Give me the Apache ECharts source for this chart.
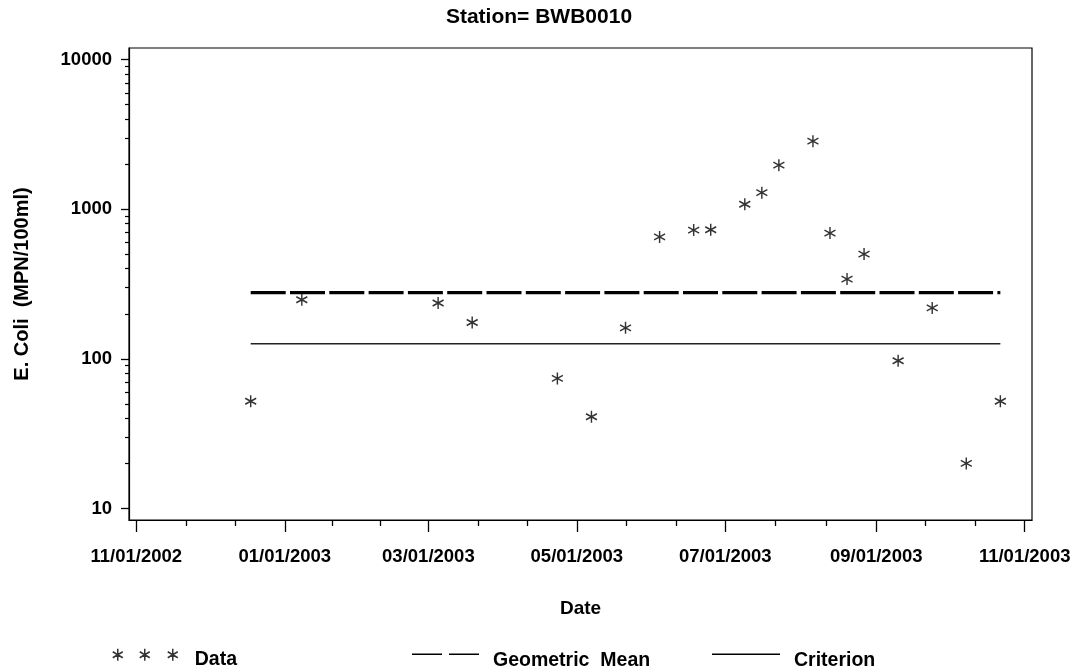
<!DOCTYPE html>
<html>
<head>
<meta charset="utf-8">
<title>E. Coli - Station BWB0010</title>
<script src="https://cdn.jsdelivr.net/npm/echarts@6/dist/echarts.min.js"></script>
<style>
  html, body { margin: 0; padding: 0; background: #fff; }
  #main { width: 1078px; height: 672px; }
</style>
</head>
<body>
<div id="main"></div>
<script>
// sample dates and E. coli counts (MPN/100ml)
var sampleDates = ['2002-12-18', '2003-01-08', '2003-03-05', '2003-03-19', '2003-04-23', '2003-05-07',
  '2003-05-21', '2003-06-04', '2003-06-18', '2003-06-25', '2003-07-09', '2003-07-16', '2003-07-23',
  '2003-08-06', '2003-08-13', '2003-08-20', '2003-08-27', '2003-09-10', '2003-09-24', '2003-10-08', '2003-10-22'];
var ecoli = [52, 248, 236, 175, 74, 41, 161, 653, 725, 728, 1080, 1290, 1970, 2850, 692, 341, 501, 97, 219, 20, 52];
var geoMean = 277;
var criterion = 126;

// axis ticks
var dateTicks = ['2002-11-01', '2003-01-01', '2003-03-01', '2003-05-01', '2003-07-01', '2003-09-01', '2003-11-01'];
var yTicks = [10, 100, 1000, 10000];
var yMinorTicks = [20, 30, 40, 50, 60, 70, 80, 90, 200, 300, 400, 500, 600, 700, 800, 900,
  2000, 3000, 4000, 5000, 6000, 7000, 8000, 9000];

var parse = function (s) { return echarts.time.parse(s).getTime(); };
var tickTimes = dateTicks.map(parse);
// two minor ticks between each pair of major dates (SAS style)
var xMinorTicks = [];
for (var i = 0; i < tickTimes.length - 1; i++) {
  var a = tickTimes[i], b = tickTimes[i + 1];
  xMinorTicks.push(a + (b - a) / 3, a + 2 * (b - a) / 3);
}

var xMin = parse('2002-10-29'), xMax = parse('2003-11-04');
var yMin = 8.37, yMax = 11950;

var FONT = '"Liberation Sans", Arial, sans-serif';
var star = 'path://M6,0L6,12M0.8,3L11.2,9M0.8,9L11.2,3';
// legend icons; the zero-length tail only stretches the box so the mark sits above the text centre
var star3 = 'path://M5,0L5,12M0,3L10,9M0,9L10,3M32,0L32,12M27,3L37,9M27,9L37,3M60,0L60,12M55,3L65,9M55,9L65,3M5,22L5,22';
var dashIcon = 'path://M0,0H30V1.5H0ZM37,0H67V1.5H37ZM0,15L0,15';
var lineIcon = 'path://M0,0H68V1.5H0ZM0,15L0,15';

var t0 = parse(sampleDates[0]), t1 = parse(sampleDates[sampleDates.length - 1]);
var legendText = {fontFamily: FONT, fontSize: 19.5, fontWeight: 'bold', color: '#000', padding: [0, 0, 0, 9]};

var chart = echarts.init(document.getElementById('main'));
chart.setOption({
  animation: false,
  backgroundColor: '#fff',
  title: {
    text: 'Station= BWB0010',
    left: 'center',
    top: 2,
    textStyle: {fontFamily: FONT, fontSize: 21, fontWeight: 'bold', color: '#000'}
  },
  grid: {left: 129, right: 46, top: 48, bottom: 152, show: true, borderColor: '#000', borderWidth: 1.2},
  xAxis: [{
    type: 'value',
    min: xMin,
    max: xMax,
    name: 'Date',
    nameLocation: 'middle',
    nameGap: 79,
    nameTextStyle: {fontFamily: FONT, fontSize: 19, fontWeight: 'bold', color: '#000'},
    axisLine: {lineStyle: {color: '#000', width: 1.2}},
    axisTick: {customValues: tickTimes, length: 12, lineStyle: {color: '#000', width: 1.3}},
    axisLabel: {
      customValues: tickTimes,
      margin: 27,
      fontFamily: FONT, fontSize: 18.5, fontWeight: 'bold', color: '#000',
      formatter: function (v) { return echarts.time.format(v, '{MM}/{dd}/{yyyy}', false); }
    },
    splitLine: {show: false}
  }, {
    // minor ticks only
    type: 'value',
    position: 'bottom',
    min: xMin,
    max: xMax,
    axisLine: {show: false},
    axisTick: {customValues: xMinorTicks, length: 6, lineStyle: {color: '#000', width: 1.3}},
    axisLabel: {show: false},
    splitLine: {show: false}
  }],
  yAxis: [{
    type: 'log',
    min: yMin,
    max: yMax,
    name: 'E. Coli  (MPN/100ml)',
    nameLocation: 'middle',
    nameGap: 97,
    nameTextStyle: {fontFamily: FONT, fontSize: 20, fontWeight: 'bold', color: '#000'},
    axisLine: {show: true, lineStyle: {color: '#000', width: 1.2}},
    axisTick: {customValues: yTicks, length: 8, lineStyle: {color: '#000', width: 1.3}},
    axisLabel: {
      customValues: yTicks,
      margin: 17,
      fontFamily: FONT, fontSize: 18.5, fontWeight: 'bold', color: '#000',
      formatter: function (v) { return String(Math.round(v)); }
    },
    splitLine: {show: false}
  }, {
    type: 'log',
    position: 'left',
    min: yMin,
    max: yMax,
    axisLine: {show: false},
    axisTick: {customValues: yMinorTicks, length: 4, lineStyle: {color: '#000', width: 1.2}},
    axisLabel: {show: false},
    splitLine: {show: false}
  }],
  legend: [{
    data: [{name: 'Data', icon: star3}],
    left: 112, top: 648, padding: 0,
    itemWidth: 65, itemHeight: 22,
    selectedMode: false,
    itemStyle: {color: '#000', borderColor: '#000', borderWidth: 1.5},
    textStyle: {fontFamily: FONT, fontSize: 19.5, fontWeight: 'bold', color: '#000', padding: [0, 0, 0, 12]}
  }, {
    data: [{name: 'Geometric Mean', icon: dashIcon}],
    left: 412, top: 651, padding: 0,
    itemWidth: 67, itemHeight: 15,
    selectedMode: false,
    formatter: function () { return 'Geometric  Mean'; },
    itemStyle: {color: '#000', borderWidth: 0},
    textStyle: legendText
  }, {
    data: [{name: 'Criterion', icon: lineIcon}],
    left: 712, top: 651, padding: 0,
    itemWidth: 68, itemHeight: 15,
    selectedMode: false,
    itemStyle: {color: '#000', borderWidth: 0},
    textStyle: legendText
  }],
  series: [{
    name: 'Data',
    type: 'scatter',
    data: sampleDates.map(function (d, i) { return [parse(d), ecoli[i]]; }),
    symbol: star,
    symbolSize: [11, 12],
    itemStyle: {color: '#000', borderColor: '#000', borderWidth: 1.5},
    z: 5
  }, {
    name: 'Geometric Mean',
    type: 'line',
    data: [[t0, geoMean], [t1, geoMean]],
    symbol: 'none',
    itemStyle: {color: '#000'},
    lineStyle: {color: '#000', width: 3.3, type: [35, 4.3]}
  }, {
    name: 'Criterion',
    type: 'line',
    data: [[t0, criterion], [t1, criterion]],
    symbol: 'none',
    itemStyle: {color: '#000'},
    lineStyle: {color: '#222', width: 1.5}
  }]
});
</script>
</body>
</html>
